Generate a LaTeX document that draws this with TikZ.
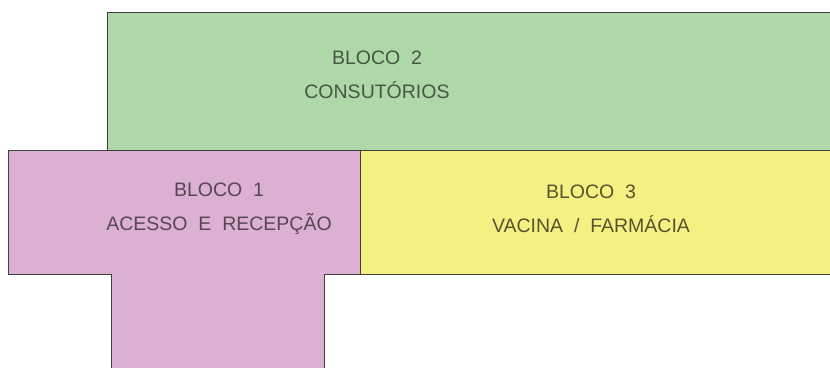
\documentclass[tikz,border=0pt]{standalone}
\usepackage{fontspec}
\setmainfont{Liberation Sans}
\begin{document}
\begin{tikzpicture}[x=1pt,y=-1pt,
  blk/.style={draw=black!75,line width=0.8pt},
  lbl/.style={font=\fontsize{19.5}{34}\selectfont,align=center,inner sep=0pt}]
\definecolor{gr}{RGB}{175,216,169}
\definecolor{pk}{RGB}{219,176,210}
\definecolor{yl}{RGB}{245,240,130}
\useasboundingbox (0,0) rectangle (830,367);
\fill[white] (0,0) rectangle (830,367);
% bloco 2
\fill[gr] (107,12) rectangle (832,150);
\draw[blk] (832,12) -- (107,12) -- (107,150);
% bloco 3
\fill[yl] (360,150) rectangle (832,274);
\draw[blk] (832,274) -- (360,274);
% bloco 1
\fill[pk] (8,150) -- (360,150) -- (360,274) -- (324,274) -- (324,370) -- (111,370) -- (111,274) -- (8,274) -- cycle;
\draw[blk] (832,150) -- (8,150) -- (8,274) -- (111,274) -- (111,370);
\draw[blk] (324,370) -- (324,274) -- (360,274) -- (360,150);
% labels
\node[lbl,text=black!60!gr] (b2) at (377,75) {BLOCO\ \ 2\\CONSUTÓRIOS};
\node[lbl,text=black!60!pk] (b1) at (219,209) {BLOCO\ \ 1\\ACESSO\ \ E\ \ RECEPÇÃO};
\node[lbl,text=black!65!yl] (b3) at (591,209) {BLOCO\ \ 3\\VACINA\ \ /\ \ FARMÁCIA};
\end{tikzpicture}
\end{document}
